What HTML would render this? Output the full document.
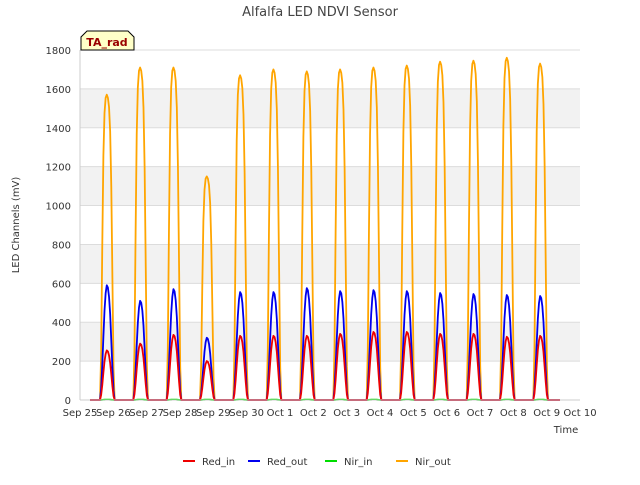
<!DOCTYPE html>
<html><head><meta charset="utf-8"><style>
body{margin:0;background:#fff;font-family:"Liberation Sans","DejaVu Sans",sans-serif}
svg text{font-family:"DejaVu Sans","Liberation Sans",sans-serif}
</style></head><body>
<svg id="c" width="640" height="480" xmlns="http://www.w3.org/2000/svg">
<text x="320" y="16" text-anchor="middle" font-size="13" fill="#444">Alfalfa LED NDVI Sensor</text>
<g id="grid"></g><g id="series"></g><g id="axes"></g>
<text x="19" y="225" transform="rotate(-90 19 225)" text-anchor="middle" font-size="10" fill="#333">LED Channels (mV)</text>
<text x="566" y="433" text-anchor="middle" font-size="10" fill="#333">Time</text>
<g>
<path d="M81,50 L81,37 L87,31 L128,31 L134,37 L134,50 Z" fill="#ffffc8" stroke="#000" stroke-width="1"/>
<text x="107" y="46" text-anchor="middle" font-size="11" font-weight="bold" fill="#990000">TA_rad</text></g>
<g id="legend"></g>
</svg>
<script>
const days=["Sep 25","Sep 26","Sep 27","Sep 28","Sep 29","Sep 30","Oct 1","Oct 2","Oct 3","Oct 4","Oct 5","Oct 6","Oct 7","Oct 8","Oct 9","Oct 10"];
const yTicks=[0,200,400,600,800,1000,1200,1400,1600,1800];
const nirOutPeaks=[1570,1710,1710,1150,1670,1700,1690,1700,1710,1720,1740,1745,1760,1730];
const redOutPeaks=[590,510,570,320,555,555,575,560,565,560,550,545,540,535];
const redInPeaks=[255,290,335,200,330,330,330,340,350,350,340,340,325,330];
const nirInPeaks=[2,2,2,2,2,2,2,2,2,2,2,2,2,2];
const profileWide=[0,0.15,0.5,0.8,0.94,0.99,1,0.99,0.96,0.88,0.7,0.4,0.1,0];
const profileNarrow=[0,0.1,0.3,0.55,0.78,0.93,1,0.98,0.9,0.75,0.52,0.28,0.08,0];
const X0=80,X1=580,Y0=400,Y1=50;
const xs=d=>X0+(X1-X0)*d/15, ys=v=>Y0-(Y0-Y1)*v/1800;
const NS="http://www.w3.org/2000/svg";
function mk(p,t,a){const e=document.createElementNS(NS,t);for(const k in a)e.setAttribute(k,a[k]);p.appendChild(e);return e;}
const g=document.getElementById('grid'),ax=document.getElementById('axes'),se=document.getElementById('series');
for(let i=0;i<yTicks.length-1;i++){if(i%2==1){const r=mk(g,'rect',{x:X0,y:ys(yTicks[i+1]),width:X1-X0,height:ys(yTicks[i])-ys(yTicks[i+1]),fill:'#f2f2f2'});

}}
yTicks.forEach(v=>{const l=mk(g,'line',{x1:X0,x2:X1,y1:ys(v),y2:ys(v),stroke:'#dcdcdc'});


const t=mk(ax,'text',{x:X0-9,y:ys(v)+4,'text-anchor':'end','font-size':10,fill:'#333'});t.textContent=v;

});
days.forEach((d,i)=>{const t=mk(ax,'text',{x:xs(i),y:416,'text-anchor':'middle','font-size':10,fill:'#333'});t.textContent=d;

});
mk(ax,'line',{x1:X0,x2:X0,y1:Y1,y2:Y0,stroke:'#ccc'});
mk(ax,'line',{x1:X0,x2:X1,y1:Y0,y2:Y0,stroke:'#ccc'});
function series(peaks,prof,color,name){let pts=[[xs(0.3),ys(0)]];
peaks.forEach((p,d)=>{prof.forEach((f,i)=>{const off=d+0.6+i*(0.44/(prof.length-1));pts.push([xs(off),ys(p*f)]);});});
pts.push([xs(14.4),ys(0)]);
const e=mk(se,'polyline',{points:pts.map(q=>q.join(',')).join(' '),fill:'none',stroke:color,'stroke-width':1.8,'stroke-linejoin':'round'});

}
series(nirInPeaks,profileNarrow,'#00dd00','nir-in-line');
series(nirOutPeaks,profileWide,'#ffa500','nir-out-line');
series(redOutPeaks,profileNarrow,'#0000ee','red-out-line');
series(redInPeaks,profileNarrow,'#ee0000','red-in-line');
const lg=document.getElementById('legend');
[["Red_in","#ee0000",183],["Red_out","#0000ee",248],["Nir_in","#00dd00",325],["Nir_out","#ffa500",396]].forEach(([n,c,x])=>{
const gg=mk(lg,'g',{});


mk(gg,'line',{x1:x,x2:x+12,y1:461,y2:461,stroke:c,'stroke-width':2});
const t=mk(gg,'text',{x:x+19,y:465,'font-size':10,fill:'#333'});t.textContent=n;});
</script>
</body></html>
